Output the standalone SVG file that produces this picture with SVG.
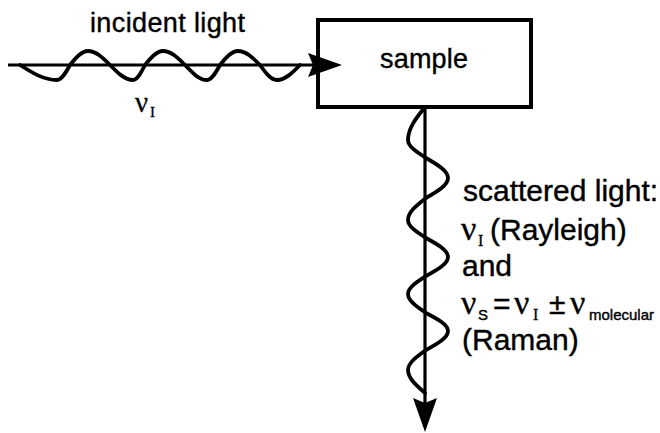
<svg xmlns="http://www.w3.org/2000/svg" width="660" height="433" viewBox="0 0 660 433">
<style>
.ln{stroke:#000;stroke-width:3.2;fill:none}
.wave{stroke:#000;stroke-width:3.8;fill:none;stroke-linecap:round}
.box{stroke:#000;stroke-width:4;fill:#fff}
.sans{font-family:"Liberation Sans",Arial,sans-serif;fill:#000;stroke:#000;stroke-width:0.4}
.serif{font-family:"Liberation Serif","Times New Roman",serif;fill:#000;stroke:#000;stroke-width:0.3}
</style>
<defs>
<marker id="arrow" markerUnits="userSpaceOnUse" markerWidth="36" markerHeight="26" refX="5" refY="12" orient="auto" viewBox="0 0 36 24">
<path d="M0,0 L34,12 L0,24 L5,12 z" fill="#000"/>
</marker>
</defs>
<rect width="660" height="433" fill="#fff"/>
<g id="sample">
<rect class="box" x="318" y="20" width="213" height="87"/>
<text class="sans" x="380" y="68" font-size="27" textLength="88">sample</text>
</g>
<g id="connectors">
<g id="incident-light">
<line class="ln" x1="8" y1="65" x2="313" y2="65" marker-end="url(#arrow)"/>
<path class="wave" d="M20,65 C32.1,72.7 43.6,80 57,80 C61.7,80 65.8,72.7 70,65 C75.9,57.8 81.5,51 88,51 C96,51 102.8,57.8 110,65 C117.5,72.7 124.7,80 133,80 C137.3,80 141.1,72.7 145,65 C150.9,57.8 156.5,51 163,51 C171,51 177.8,57.8 185,65 C192.2,72.7 199,80 207,80 C211.7,80 215.8,72.7 220,65 C225.9,57.8 231.5,51 238,51 C246,51 252.8,57.8 260,65 C265.5,72.7 270.8,80 277,80 C285.3,80 292.5,72.7 300,65"/>
</g>
<g id="scattered-light">
<line class="ln" x1="425" y1="107" x2="425" y2="403" marker-end="url(#arrow)"/>
<path class="wave" d="M425,107 C416.3,117.8 408,128.1 408,140 C408,146.5 416.8,152.1 426,158 C437.3,164.5 448,170.8 448,178 C448,185.2 437.3,191.5 426,198 C416.8,205.2 408,212 408,220 C408,226.5 416.8,232.1 426,238 C437.3,244.2 448,250.1 448,257 C448,263.9 437.3,269.8 426,276 C416.8,281.9 408,287.5 408,294 C408,300.9 416.8,306.8 426,313 C437.3,318.9 448,324.5 448,331 C448,337.9 437.3,343.8 426,350 C416.8,356.5 408,362.8 408,370 C408,378.3 416.3,385.5 425,393"/>
</g>
</g>
<g id="labels">
<text class="sans" x="90" y="32" font-size="27" textLength="155">incident light</text>
<text class="serif" x="135" y="112" font-size="29">ν</text>
<text class="serif" x="150" y="117" font-size="15">I</text>
<text class="sans" x="463" y="201" font-size="30">scattered light:</text>
<text class="serif" x="461" y="240" font-size="34">ν</text>
<text class="serif" x="478" y="246" font-size="16">I</text>
<text class="sans" x="490" y="240" font-size="30">(Rayleigh)</text>
<text class="sans" x="462" y="276" font-size="30">and</text>
<text class="serif" x="461" y="314" font-size="34">ν</text>
<text class="sans" x="478" y="320" font-size="15">S</text>
<text class="sans" x="493" y="314" font-size="30">=</text>
<text class="serif" x="514" y="314" font-size="34">ν</text>
<text class="serif" x="533" y="320" font-size="16">I</text>
<text class="sans" x="549" y="314" font-size="30">±</text>
<text class="serif" x="570" y="314" font-size="34">ν</text>
<text class="sans" x="589" y="320" font-size="15">molecular</text>
<text class="sans" x="462" y="350" font-size="30">(Raman)</text>
</g>
</svg>
